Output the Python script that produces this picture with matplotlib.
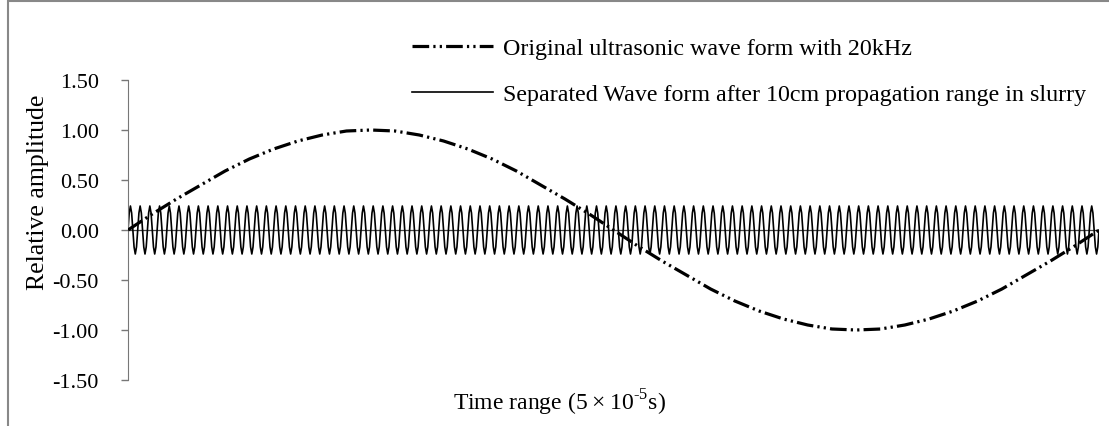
import matplotlib.pyplot as plt
from matplotlib.patches import Rectangle

plt.rcParams['font.family'] = ['Liberation Serif', 'DejaVu Serif']
plt.rcParams['mathtext.fontset'] = 'custom'
plt.rcParams['mathtext.rm'] = 'Liberation Serif'
plt.rcParams['lines.scale_dashes'] = False

# Original 20 kHz wave: one period across the time range
original_t = [0.000, 0.025, 0.050, 0.075, 0.100, 0.125, 0.150, 0.175, 0.200,
              0.225, 0.250, 0.275, 0.300, 0.325, 0.350, 0.375, 0.400, 0.425,
              0.450, 0.475, 0.500, 0.525, 0.550, 0.575, 0.600, 0.625, 0.650,
              0.675, 0.700, 0.725, 0.750, 0.775, 0.800, 0.825, 0.850, 0.875,
              0.900, 0.925, 0.950, 0.975, 1.000]
original_amp = [0.00, 0.16, 0.31, 0.45, 0.59, 0.71, 0.81, 0.89, 0.95, 0.99,
                1.00, 0.99, 0.95, 0.89, 0.81, 0.71, 0.59, 0.45, 0.31, 0.16,
                0.00, -0.16, -0.31, -0.45, -0.59, -0.71, -0.81, -0.89, -0.95,
                -0.99, -1.00, -0.99, -0.95, -0.89, -0.81, -0.71, -0.59, -0.45,
                -0.31, -0.16, 0.00]

# Separated wave: 100 cycles of amplitude ~0.24, sampled 8 times per cycle
separated_cycle = [0.00, 0.17, 0.24, 0.17, 0.00, -0.17, -0.24, -0.17]
separated_cycles = 100
separated_amp = separated_cycle * separated_cycles + [0.00]
separated_t = [i / (len(separated_amp) - 1) for i in range(len(separated_amp))]

yticks = [1.5, 1.0, 0.5, 0.0, -0.5, -1.0, -1.5]
ytick_labels = ['1.50', '1.00', '0.50', '0.00', '-0.50', '-1.00', '-1.50']

W, H = 1109, 427
fig = plt.figure(figsize=(W / 100, H / 100), dpi=100)
ax = fig.add_axes([128 / W, 1 - 381 / H, (1099 - 128) / W, 300 / H])

ax.axhline(0, color='#444444', lw=0.9, zorder=1)
l2, = ax.plot(separated_t, separated_amp, color='black', lw=1.2, zorder=2)
l1, = ax.plot(original_t, original_amp, color='black', lw=2.3,
              linestyle=(0, (12, 3, 1.6, 3, 1.6, 3)), zorder=3)

ax.set_xlim(0, 1)
ax.set_ylim(-1.5, 1.5)
ax.set_yticks(yticks)
ax.set_yticklabels(ytick_labels, fontsize=16)
ax.set_xticks([])
for s in ['top', 'right', 'bottom']:
    ax.spines[s].set_visible(False)
ax.spines['left'].set_color('#777777')
ax.tick_params(axis='y', direction='out', length=5, width=1,
               color='#777777', pad=16)

fig.text(38 / W, 1 - 192 / H, 'Relative amplitude', rotation=90,
         ha='center', va='center', fontsize=18.5)
fig.text(560 / W, 1 - 403 / H,
         'Time range (5\u2009\u00d7\u200910$^{\\mathregular{\u2010}5}$s)',
         ha='center', va='center', fontsize=17)

leg = fig.legend([l1, l2],
                 ['Original ultrasonic wave form with 20kHz',
                  'Separated Wave form after 10cm propagation range in slurry'],
                 loc='upper left', bbox_to_anchor=(390 / W, 1 - 17 / H),
                 frameon=False, fontsize=17.3, handlelength=3.4,
                 handletextpad=0.4, labelspacing=1.0)

# chart area border
fig.add_artist(Rectangle((8 / W, -0.1), 1.2, 1.1 - 2 / H,
                         transform=fig.transFigure, fill=False,
                         edgecolor='#888888', lw=1.5))

fig.savefig('out.png', dpi=100)
